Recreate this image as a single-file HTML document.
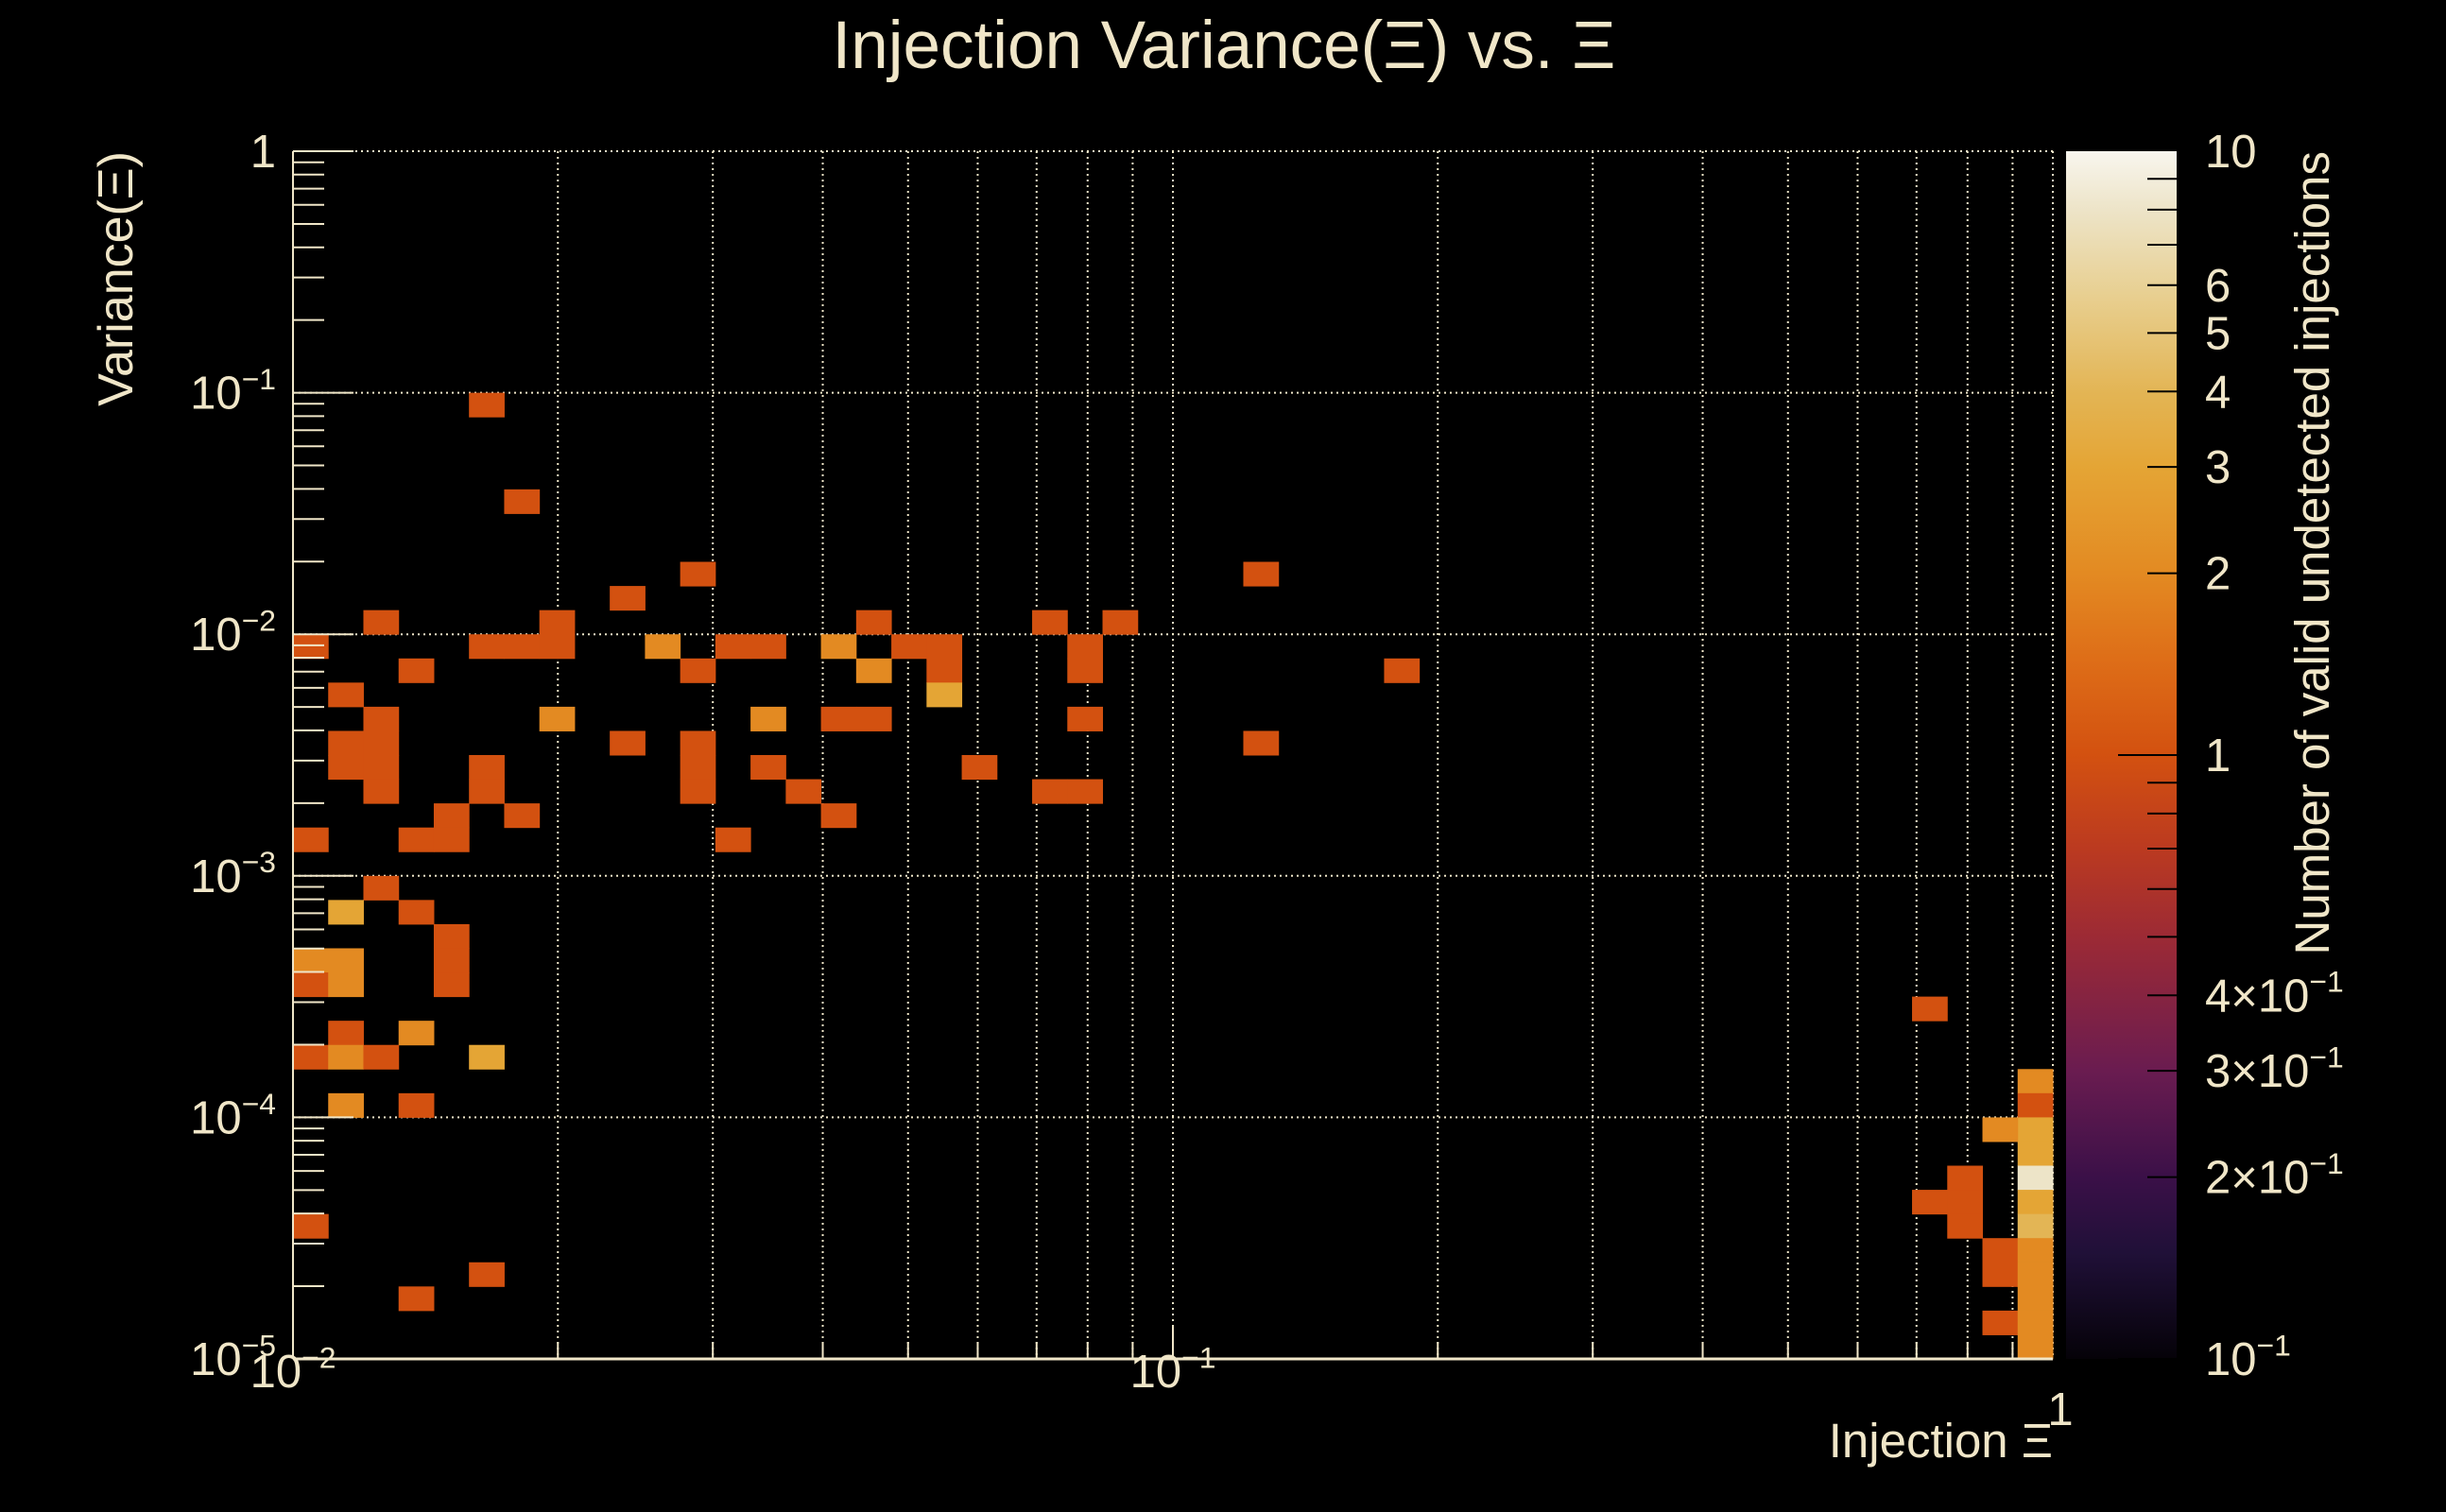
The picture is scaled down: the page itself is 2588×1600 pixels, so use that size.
<!DOCTYPE html>
<html><head><meta charset="utf-8"><style>
html,body{margin:0;padding:0;background:#000;}
svg{display:block;font-family:"Liberation Sans",sans-serif;}
</style></head><body>
<svg id="chart" width="2588" height="1600" viewBox="0 0 2588 1600" xmlns="http://www.w3.org/2000/svg">
<rect x="0" y="0" width="2588" height="1600" fill="#000"/>
<defs><linearGradient id="cbgrad" x1="0" y1="1" x2="0" y2="0"></linearGradient></defs>
<g id="grid"></g>
<g id="cells"></g>
<g id="axes"></g>
<g id="cbar"></g>
<text x="1295" y="72" font-size="71" fill="#f0e6c8" text-anchor="middle">Injection Variance(Ξ) vs. Ξ</text>
<text transform="translate(140,160) rotate(-90)" font-size="52" fill="#f0e6c8" text-anchor="end">Variance(Ξ)</text>
<text x="2172" y="1542" font-size="51" fill="#f0e6c8" text-anchor="end">Injection Ξ</text>
<text transform="translate(2464,160) rotate(-90)" font-size="51" fill="#f0e6c8" text-anchor="end">Number of valid undetected injections</text>
</svg>
<script>
// data: x-bin index (0..49, log10 bins from 1e-2 to 1), y-bin index (0..49 from top, 1 down to 1e-5), counts
const xBins = [5,6,11,27,9,2,7,16,21,23, 0,5,6,7,10,12,13,15,17,18,22, 3,11,16,18,22,31, 1,18, 2,7,13,15,16,22, 1,2,9,11,27, 1,2,5,11,13,19, 2,5,11,14,21,22, 4,6,15, 0,3,4,12, 2,1,3,4,0,1,4,0,1,4, 1,3,0,1,2,5,1,3, 0,5,3, 46,49,49,49,48,49,49,47,46,47,49,47,49,48,49,48,49,49,48,49,49];
const yBinsFromTop = [10,14,17,17,18,19,19,19,19,19, 20,20,20,20,20,20,20,20,20,20,20, 21,21,21,21,21,21, 22,22, 23,23,23,23,23,23, 24,24,24,24,24, 25,25,25,25,25,25, 26,26,26,26,26,26, 27,27,27, 28,28,28,28, 30,31,31,32,33,33,33,34,34,34, 36,36,37,37,37,37,39,39, 44,46,47, 35,38,39,40,40,41,42,42,43,43,43,44,44,45,45,46,46,47,48,48,49];
const counts = [1,1,1,1,1,1,1,1,1,1, 1,1,1,1,2,1,1,2,1,1,1, 1,1,2,1,1,1, 1,3, 1,2,2,1,1,1, 1,1,1,1,1, 1,1,1,1,1,1, 1,1,1,1,1,1, 1,1,1, 1,1,1,1, 1,3,1,1,2,2,1,1,2,1, 1,2,1,2,1,3,2,1, 1,1,1, 1,2,1,3,2,3,8,1,1,1,3,1,4,1,2,1,2,2,1,2,2];
const yTickLabels = ["10^-5","10^-4","10^-3","10^-2","10^-1","1"];
const xTickLabels = ["10^-2","10^-1","1"];
const zTickValues = [0.2,0.3,0.4,1,2,3,4,5,6,10];
const zTickLabels = ["2×10^-1","3×10^-1","4×10^-1","1","2","3","4","5","6","10"];

const NS="http://www.w3.org/2000/svg";
const PX0=310, PX1=2172, PY0=160, PY1=1438;
const CBX0=2186, CBX1=2303;
const cream="#f0e6c8";
const FS=49;
function xs(v){return PX0+(Math.log10(v)+2)/2*(PX1-PX0);}
function ys(v){return PY1-(Math.log10(v)+5)/5*(PY1-PY0);}
function zs(v){return PY1-(Math.log10(v)+1)/2*(PY1-PY0);}
const stops=[[0,"#050208"],[0.088,"#201038"],[0.1505,"#3b1048"],[0.2386,"#6a1c50"],[0.349,"#9c2a35"],[0.4225,"#bb3a20"],[0.5,"#d35110"],[0.58,"#de6e18"],[0.6505,"#e38a22"],[0.7386,"#e4a535"],[0.801,"#e3b555"],[0.88,"#e8cf90"],[0.9515,"#ede4c8"],[1,"#f8f6ee"]];
function hex(c){return [1,3,5].map(i=>parseInt(c.substr(i,2),16));}
function color(v){let t=(Math.log10(v)+1)/2;t=Math.max(0,Math.min(1,t));
 for(let i=1;i<stops.length;i++){if(t<=stops[i][0]){const a=stops[i-1],b=stops[i];const f=(t-a[0])/(b[0]-a[0]);const A=hex(a[1]),B=hex(b[1]);return "rgb("+A.map((x,k)=>Math.round(x+(B[k]-x)*f)).join(",")+")";}}
 return stops[stops.length-1][1];}
function mk(tag,attrs,parent){const e=document.createElementNS(NS,tag);for(const k in attrs)e.setAttribute(k,attrs[k]);parent.appendChild(e);return e;}
function labelText(parent,x,y,str,anchor,size){
 const t=mk("text",{x:x,y:y,"font-size":size,fill:cream,"text-anchor":anchor},parent);
 const p=str.split("^");
 t.appendChild(document.createTextNode(p[0]));
 if(p.length>1){const s=mk("tspan",{dy:-size*0.42,"font-size":size*0.65},t);s.textContent=p[1].replace("-","−");}
 return t;}

// grid
const grid=document.getElementById("grid");
for(let d=-2;d<0;d++)for(let k=1;k<=9;k++){const v=k*Math.pow(10,d);const x=xs(v);
 const l=mk("line",{x1:x,y1:PY0,x2:x,y2:PY1,stroke:cream,"stroke-width":2,"stroke-dasharray":"2 4"},grid);
 
 }
{const l=mk("line",{x1:PX1,y1:PY0,x2:PX1,y2:PY1,stroke:cream,"stroke-width":2,"stroke-dasharray":"2 4"},grid);
 
 }
for(let d=-4;d<=0;d++){const y=ys(Math.pow(10,d));
 const l=mk("line",{x1:PX0,y1:y,x2:PX1,y2:y,stroke:cream,"stroke-width":2,"stroke-dasharray":"2 4"},grid);
 
 }

// cells
const cells=document.getElementById("cells");
for(let i=0;i<counts.length;i++){
 const xl=Math.pow(10,-2+xBins[i]*0.04), xh=Math.pow(10,-2+(xBins[i]+1)*0.04);
 const yb=49-yBinsFromTop[i];
 const yl=Math.pow(10,-5+yb*0.1), yh=Math.pow(10,-5+(yb+1)*0.1);
 const r=mk("rect",{x:xs(xl),y:ys(yh),width:xs(xh)-xs(xl)+0.5,height:ys(yl)-ys(yh)+0.5,fill:color(counts[i])},cells);
 
 }

// axes
const axes=document.getElementById("axes");
mk("line",{x1:PX0,y1:PY0,x2:PX0,y2:PY1,stroke:cream,"stroke-width":2},axes);
mk("line",{x1:PX0,y1:PY1,x2:PX1,y2:PY1,stroke:cream,"stroke-width":3},axes);
for(let d=-5;d<0;d++)for(let k=1;k<=9;k++){const y=ys(k*Math.pow(10,d));mk("line",{x1:PX0,y1:y,x2:PX0+(k==1?64:33),y2:y,stroke:cream,"stroke-width":2},axes);}
mk("line",{x1:PX0,y1:PY0,x2:PX0+64,y2:PY0,stroke:cream,"stroke-width":2},axes);
for(let d=-2;d<0;d++)for(let k=1;k<=9;k++){const x=xs(k*Math.pow(10,d));mk("line",{x1:x,y1:PY1,x2:x,y2:PY1-(k==1?36:18),stroke:cream,"stroke-width":2},axes);}
yTickLabels.forEach((s,i)=>{const t=labelText(axes,292,ys(Math.pow(10,i-5))+17,s,"end",FS);
 
 });
xTickLabels.forEach((s,i)=>{const v=Math.pow(10,i-2);const t=labelText(axes,xs(v)+(i==2?8:0),i==2?1508:1468,s,"middle",FS);
 
 });

// colorbar
const g=document.getElementById("cbgrad");
stops.forEach(s=>mk("stop",{offset:s[0],"stop-color":s[1]},g));
const cb=document.getElementById("cbar");
const cr=mk("rect",{x:CBX0,y:PY0,width:CBX1-CBX0,height:PY1-PY0,fill:"url(#cbgrad)"},cb);


for(let d=-1;d<1;d++)for(let k=1;k<=9;k++){const v=k*Math.pow(10,d);const y=zs(v);
 mk("line",{x1:CBX1-(k==1?62:31),y1:y,x2:CBX1,y2:y,stroke:"#000","stroke-width":2},cb);}
zTickValues.forEach((v,i)=>{const t=labelText(cb,2333,zs(v)+17,zTickLabels[i],"start",FS);
 
 });
{const t=labelText(cb,2333,zs(0.1)+17,"10^-1","start",FS);
 
 }
</script>
</body></html>
